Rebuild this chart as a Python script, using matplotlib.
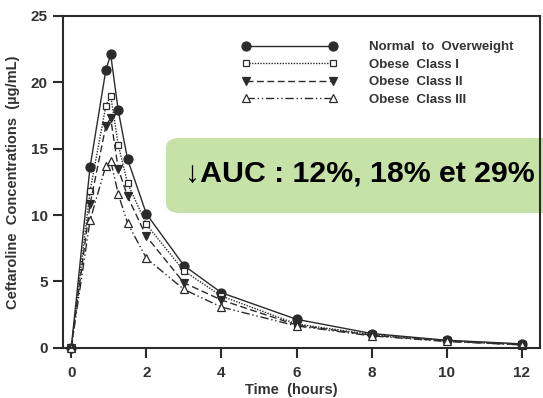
import matplotlib

matplotlib.use("Agg")
import matplotlib.pyplot as plt
from matplotlib.patches import FancyBboxPatch

plt.rcParams["font.family"] = ["Liberation Sans", "DejaVu Sans"]

times = [0, 0.5, 0.92, 1.05, 1.25, 1.5, 2, 3, 4, 6, 8, 10, 12]
normal = [0, 13.6, 20.9, 22.1, 17.9, 14.2, 10.1, 6.2, 4.15, 2.15, 1.08, 0.57, 0.3]
obese_1 = [0, 11.8, 18.2, 19.0, 15.3, 12.4, 9.3, 5.8, 3.9, 1.8, 1.0, 0.55, 0.27]
obese_2 = [0, 10.8, 16.7, 17.3, 13.5, 11.4, 8.4, 4.9, 3.6, 1.72, 0.95, 0.5, 0.24]
obese_3 = [0, 9.6, 13.7, 14.1, 11.6, 9.4, 6.75, 4.4, 3.07, 1.65, 0.9, 0.48, 0.22]
labels = ["Normal  to  Overweight", "Obese  Class I", "Obese  Class II", "Obese  Class III"]
x_ticks = [0, 2, 4, 6, 8, 10, 12]
y_ticks = [0, 5, 10, 15, 20, 25]
note = "\u2193AUC : 12%, 18% et 29%"

ink = "#2b2b2b"
styles = [
    dict(ls="-", marker="o", mfc=ink, ms=6.5),
    dict(ls=(0, (1, 1)), marker="s", mfc="white", ms=5),
    dict(ls=(0, (5, 2.5)), marker="v", mfc=ink, ms=5.5),
    dict(ls=(0, (6, 2, 1, 2, 1, 2)), marker="^", mfc="white", ms=5.5),
]

fig = plt.figure(figsize=(5.43, 3.98), dpi=100)
ax = fig.add_axes([0.116, 0.126, 0.879, 0.834])
for series, label, st in zip([normal, obese_1, obese_2, obese_3], labels, styles):
    ax.plot(times, series, color=ink, lw=1.0, mec=ink, mew=0.9,
            label=label, clip_on=False, **st)

ax.set_xlim(-0.22, 12.49)
ax.set_ylim(0, 25)
ax.set_xticks(x_ticks)
ax.set_yticks(y_ticks)
for side in ax.spines.values():
    side.set_linewidth(1.5)
    side.set_color(ink)
ax.tick_params(direction="out", length=7, width=1.5, color=ink,
               labelsize=11, labelcolor="#333333")
ax.tick_params(axis="x", pad=6)
ax.tick_params(axis="y", pad=4)
for lab in ax.get_xticklabels() + ax.get_yticklabels():
    lab.set_fontweight("bold")
ax.set_xlabel("Time  (hours)", fontsize=10.5, fontweight="bold", color="#333333")
ax.xaxis.set_label_coords(0.478, -0.105)
ax.set_ylabel("Ceftaroline  Concentrations  (\u00b5g/mL)", fontsize=10.5,
              fontweight="bold", color="#333333")
ax.yaxis.set_label_coords(-0.09, 0.5)

leg = ax.legend(loc="upper left", bbox_to_anchor=(0.375, 0.924), frameon=False,
                numpoints=2, handlelength=7.2, handletextpad=2.4,
                labelspacing=0.4, borderpad=0, borderaxespad=0,
                prop=dict(size=9.5, weight="bold"))
for t in leg.get_texts():
    t.set_color("#333333")

box = FancyBboxPatch((166 / 543, 1 - 213 / 398), 0.75, 75 / 398,
                     boxstyle="round,pad=0,rounding_size=0.025",
                     transform=fig.transFigure, facecolor="#c6e2a6",
                     edgecolor="none", clip_on=False, zorder=2.3)
ax.add_patch(box)
fig.text(185 / 543, 1 - 181 / 398, note, fontsize=21.8, fontweight="bold",
         color="black", va="baseline", ha="left", zorder=2.4)

fig.savefig("out.png", dpi=100)
